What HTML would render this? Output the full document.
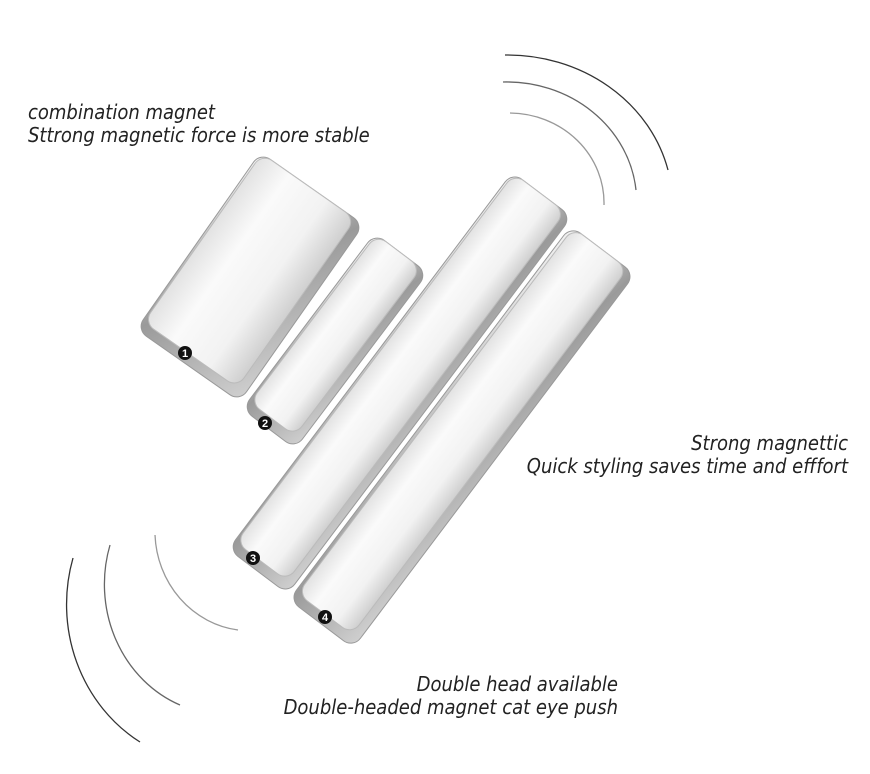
<!DOCTYPE html>
<html><head><style>
body{margin:0;width:870px;height:774px;background:#fff;overflow:hidden;position:relative;font-family:"Liberation Sans",sans-serif;}
.t{position:absolute;font-style:italic;font-size:20px;color:#222;line-height:23px;white-space:nowrap;font-family:"DejaVu Sans Condensed","Liberation Sans",sans-serif;}
</style></head><body>
<svg width="870" height="774" style="position:absolute;left:0;top:0">
<defs>
<linearGradient id="side" x1="0" y1="0" x2="1" y2="1">
<stop offset="0" stop-color="#f4f4f4"/><stop offset="0.5" stop-color="#9a9a9a"/><stop offset="1" stop-color="#d0d0d0"/></linearGradient>
<linearGradient id="face" x1="0" y1="0" x2="1" y2="0">
<stop offset="0" stop-color="#e2e2e2"/><stop offset="0.3" stop-color="#fafafa"/><stop offset="0.7" stop-color="#f2f2f2"/><stop offset="1" stop-color="#cfcfcf"/></linearGradient>
</defs>
<g fill="none" stroke="#333" stroke-width="1.3">
<path d="M505 55 A165 150 0 0 1 668 170"/>
<path d="M503 82 A130 120 0 0 1 636 190" stroke="#666"/>
<path d="M510 113 A95 90 0 0 1 604 205" stroke="#999"/>
<path d="M73 558 A150 160 0 0 0 140 742"/>
<path d="M110 545 A120 130 0 0 0 180 705" stroke="#666"/>
<path d="M155 535 A95 100 0 0 0 238 630" stroke="#999"/>
</g>
<g transform="translate(462,437) rotate(37)">
<rect x="-40" y="-234" width="80" height="468" rx="12" fill="url(#side)" stroke="#999"/>
<rect x="-37" y="-234" width="68" height="458" rx="12" fill="url(#face)" stroke="#bbb"/></g>
<g transform="translate(400,383) rotate(37)">
<rect x="-37" y="-236" width="74" height="472" rx="12" fill="url(#side)" stroke="#999"/>
<rect x="-35" y="-236" width="64" height="462" rx="12" fill="url(#face)" stroke="#bbb"/></g>
<g transform="translate(335,341) rotate(37)">
<rect x="-33" y="-110" width="66" height="220" rx="12" fill="url(#side)" stroke="#999"/>
<rect x="-31" y="-110" width="56" height="210" rx="12" fill="url(#face)" stroke="#bbb"/></g>
<g transform="translate(250,277) rotate(35)">
<rect x="-63" y="-108" width="126" height="216" rx="12" fill="url(#side)" stroke="#999"/>
<rect x="-61" y="-108" width="114" height="206" rx="12" fill="url(#face)" stroke="#bbb"/></g>
<g font-family="Liberation Sans" font-size="11" font-weight="bold" fill="#fff" text-anchor="middle">
<circle cx="185" cy="353" r="7" fill="#111"/><text x="185" y="357">1</text>
<circle cx="265" cy="423" r="7" fill="#111"/><text x="265" y="427">2</text>
<circle cx="253" cy="558" r="7" fill="#111"/><text x="253" y="562">3</text>
<circle cx="325" cy="617" r="7" fill="#111"/><text x="325" y="621">4</text>
</g>
</svg>
<div class="t" style="left:28px;top:101px">combination magnet<br>Sttrong magnetic force is more stable</div>
<div class="t" style="right:22px;top:432px;text-align:right">Strong magnettic<br>Quick styling saves time and efffort</div>
<div class="t" style="right:252px;top:673px;text-align:right">Double head available<br>Double-headed magnet cat eye push</div>
</body></html>
